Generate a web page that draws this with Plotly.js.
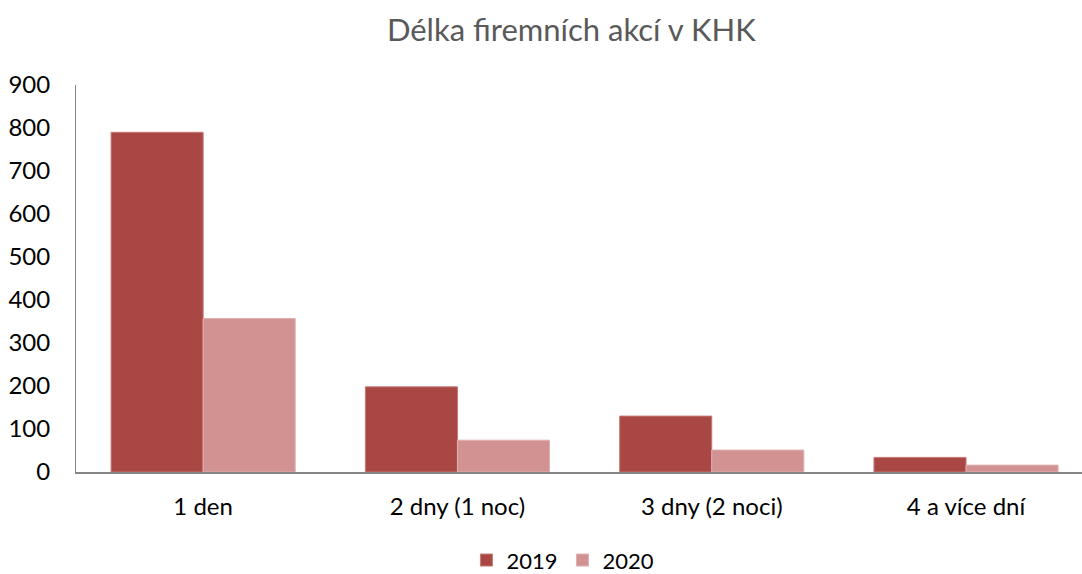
<!DOCTYPE html>
<html>
<head>
<meta charset="utf-8">
<script src="https://cdn.plot.ly/plotly-3.0.1.min.js"></script>
<style>html,body{margin:0;padding:0;background:#fff}#chart{width:1082px;height:574px}</style>
</head>
<body>
<div id="chart"></div>
<script>
const categories = ["1 den", "2 dny (1 noc)", "3 dny (2 noci)", "4 a více dní"];
const series2019 = [790, 198, 130, 34];
const series2020 = [357, 74, 51, 16];
const seriesNames = ["2019", "2020"];

const FONT = "Lato, 'Open Sans', sans-serif";
const traces = [
  {type: "bar", name: seriesNames[0], x: categories, y: series2019,
   marker: {color: "#A94744", line: {color: "#C77878", width: 1}}},
  {type: "bar", name: seriesNames[1], x: categories, y: series2020,
   marker: {color: "#D29292", line: {color: "#E0B0B0", width: 1}}}
];
const layout = {
  width: 1082, height: 574,
  margin: {l: 76, r: 0, t: 85, b: 102, autoexpand: false},
  paper_bgcolor: "#fff", plot_bgcolor: "#fff",
  font: {family: FONT, size: 24, color: "#000"},
  title: {text: "Délka firemních akcí v KHK", font: {family: FONT, size: 31, color: "#595959"},
          x: 0.528, xanchor: "center", y: 0.947, yanchor: "middle"},
  barmode: "group", bargap: 0.276, bargroupgap: 0,
  xaxis: {type: "category", range: [-0.5, 3.456], showgrid: false, zeroline: false,
          showline: true, linecolor: "#868686", linewidth: 2, ticks: "", automargin: false,
          tickfont: {family: FONT, size: 24, color: "#000"}, ticklabelstandoff: 12},
  yaxis: {range: [0, 900], dtick: 100, showgrid: false, zeroline: false, automargin: false,
          showline: true, linecolor: "#868686", linewidth: 1, ticks: "",
          tickfont: {family: FONT, size: 24, color: "#000"}, ticklabelstandoff: 20},
  showlegend: true,
  legend: {orientation: "h", x: 0.484, xanchor: "center", y: -0.228, yanchor: "middle",
           font: {family: FONT, size: 22, color: "#000"}, itemwidth: 30, tracegroupgap: 0}
};
Plotly.newPlot("chart", traces, layout, {displayModeBar: false, staticPlot: true});
</script>
</body>
</html>
